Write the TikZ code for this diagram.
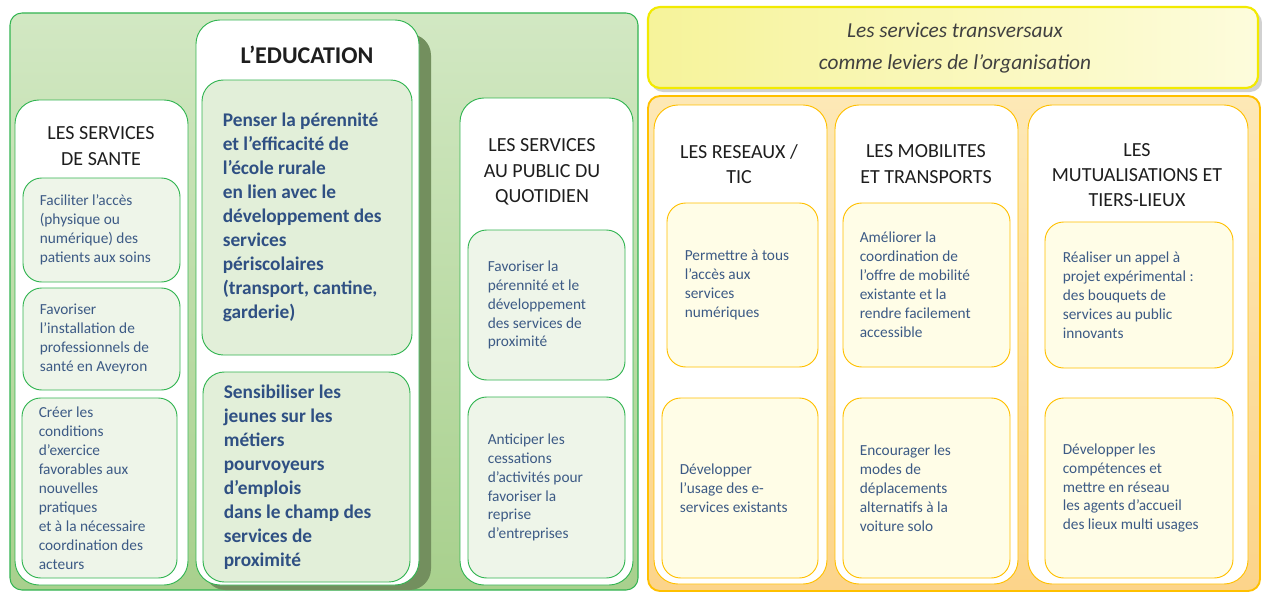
\documentclass[tikz,border=0pt]{standalone}
\usepackage{fontspec}
\setmainfont{Carlito}
\definecolor{gline}{HTML}{33B552}
\definecolor{gtop}{HTML}{D2E8C3}
\definecolor{gbot}{HTML}{A8D08D}
\definecolor{gsub}{HTML}{EEF5E9}
\definecolor{gedu}{HTML}{E2EFD9}
\definecolor{gshadow}{HTML}{738F5E}
\definecolor{oline}{HTML}{FFC000}
\definecolor{otop}{HTML}{FDE8B6}
\definecolor{obot}{HTML}{FCD48A}
\definecolor{ysub}{HTML}{FFFDE7}
\definecolor{yline}{HTML}{F2EA00}
\definecolor{ytop}{HTML}{F6F39A}
\definecolor{ybot}{HTML}{FDFCDC}
\definecolor{txtblue}{HTML}{3C5A85}
\definecolor{edublue}{HTML}{2F5083}
\definecolor{ttl}{HTML}{1E1E1E}
\newcommand\rbox[6]{%
  \pgfmathsetmacro\bw{(#5-#3)*0.75}\pgfmathsetmacro\bh{(#6-#4)*0.75}%
  \node[#2, minimum width=\bw pt, minimum height=\bh pt, inner sep=0pt] (#1) at ({(#3+#5)/2},{(#4+#6)/2}) {};}
\begin{document}
\begin{tikzpicture}[x=0.75pt,y=-0.75pt,
  panelG/.style={rectangle, rounded corners=9pt, draw=gline, line width=0.8pt, top color=gtop, bottom color=gbot},
  panelO/.style={rectangle, rounded corners=9pt, draw=oline, line width=1.4pt, top color=otop, bottom color=obot},
  headbox/.style={rectangle, rounded corners=9pt, draw=yline, line width=1.6pt, left color=ytop, right color=ybot},
  shadowG/.style={rectangle, rounded corners=16pt, fill=gshadow},
  shadowY/.style={rectangle, rounded corners=9pt, fill=black!18},
  colG/.style={rectangle, rounded corners=18pt, fill=white, draw=gline, line width=0.7pt},
  colO/.style={rectangle, rounded corners=18pt, fill=white, draw=oline, line width=0.7pt},
  subG/.style={rectangle, rounded corners=14pt, fill=gsub, draw=gline, line width=0.7pt},
  subE/.style={rectangle, rounded corners=16pt, fill=gedu, draw=gline, line width=0.7pt},
  subO/.style={rectangle, rounded corners=14pt, fill=ysub, draw=oline, line width=0.7pt},
  coltitle/.style={align=center, text=ttl, font=\fontsize{15}{19}\selectfont, inner sep=0pt},
  stxt/.style={anchor=west, align=left, text=txtblue, font=\fontsize{11.5}{14.2}\selectfont, inner sep=0pt},
  etxt/.style={anchor=west, align=left, text=edublue, font=\bfseries\fontsize{14.5}{18}\selectfont, inner sep=0pt}
]
\useasboundingbox (0,0) rectangle (1262,592);
\fill[white] (0,0) rectangle (1262,592);

% ---------- left panel ----------
\rbox{gpanel}{panelG}{10}{13}{638}{590}
\rbox{edushadow}{shadowG}{204}{34}{431}{590}
\rbox{colsante}{colG}{15}{100}{188}{585}
\rbox{coledu}{colG}{196}{20}{419}{585}
\rbox{colpub}{colG}{460}{98}{633}{585}

\node[coltitle] (tsante) at (101,146) {LES SERVICES\\DE SANTE};
\node[text=ttl, font=\bfseries\fontsize{18}{22}\selectfont, inner sep=0pt] (tedu) at (307,55) {L’EDUCATION};
\node[coltitle] (tpub) at (542,172) {LES SERVICES\\AU PUBLIC DU\\QUOTIDIEN};

\rbox{s1}{subG}{23}{178}{180}{282}
\rbox{s2}{subG}{23}{288}{180}{390}
\rbox{s3}{subG}{22}{398}{177}{578}
\node[stxt] (ts1) at ([xshift=12.75pt]s1.west) {Faciliter l’accès\\(physique ou\\numérique) des\\patients aux soins};
\node[stxt] (ts2) at ([xshift=12.75pt]s2.west) {Favoriser\\l’installation de\\professionnels de\\santé en Aveyron};
\node[stxt] (ts3) at ([xshift=12.75pt]s3.west) {Créer les\\conditions\\d’exercice\\favorables aux\\nouvelles\\pratiques\\et à la nécessaire\\coordination des\\acteurs};

\rbox{e1}{subE}{202}{80}{412}{355}
\rbox{e2}{subE}{203}{372}{410}{582}
\node[etxt] (te1) at ([xshift=15.75pt]e1.west) {Penser la pérennité\\et l’efficacité de\\l’école rurale\\en lien avec le\\développement des\\services\\périscolaires\\(transport, cantine,\\garderie)};
\node[etxt] (te2) at ([xshift=15.75pt]e2.west) {Sensibiliser les\\jeunes sur les\\métiers\\pourvoyeurs\\d’emplois\\dans le champ des\\services de\\proximité};

\rbox{p1}{subG}{468}{230}{625}{380}
\rbox{p2}{subG}{468}{397}{625}{578}
\node[stxt] (tp1) at ([xshift=15pt]p1.west) {Favoriser la\\pérennité et le\\développement\\des services de\\proximité};
\node[stxt] (tp2) at ([xshift=15pt]p2.west) {Anticiper les\\cessations\\d’activités pour\\favoriser la\\reprise\\d’entreprises};

% ---------- right panel ----------
\rbox{headshadow}{shadowY}{651}{11}{1262}{92}
\rbox{head}{headbox}{648}{7}{1258}{88}
\node[align=center, text=black!75, font=\itshape\fontsize{16}{24}\selectfont, inner sep=0pt] (thead) at (955,48) {Les services transversaux\\comme leviers de l’organisation};

\rbox{opanel}{panelO}{648}{96}{1260}{591}
\rbox{colres}{colO}{654}{105}{827}{584}
\rbox{colmob}{colO}{835}{105}{1018}{584}
\rbox{colmut}{colO}{1028}{105}{1248}{584}

\node[coltitle] (tres) at (739,164) {LES RESEAUX /\\TIC};
\node[coltitle] (tmob) at (926,164) {LES MOBILITES\\ET TRANSPORTS};
\node[coltitle] (tmut) at (1137,175) {LES\\MUTUALISATIONS ET\\TIERS-LIEUX};

\rbox{r1}{subO}{667}{203}{818}{367}
\rbox{r2}{subO}{662}{398}{818}{578}
\node[stxt] (tr1) at ([xshift=13.5pt]r1.west) {Permettre à tous\\l’accès aux\\services\\numériques};
\node[stxt] (tr2) at ([xshift=13.5pt]r2.west) {Développer\\l’usage des e-\\services existants};

\rbox{m1}{subO}{843}{203}{1010}{367}
\rbox{m2}{subO}{843}{398}{1010}{578}
\node[stxt] (tm1) at ([xshift=12.75pt]m1.west) {Améliorer la\\coordination de\\l’offre de mobilité\\existante et la\\rendre facilement\\accessible};
\node[stxt] (tm2) at ([xshift=12.75pt]m2.west) {Encourager les\\modes de\\déplacements\\alternatifs à la\\voiture solo};

\rbox{u1}{subO}{1045}{222}{1233}{368}
\rbox{u2}{subO}{1045}{398}{1233}{578}
\node[stxt] (tu1) at ([xshift=13.5pt]u1.west) {Réaliser un appel à\\projet expérimental :\\des bouquets de\\services au public\\innovants};
\node[stxt] (tu2) at ([xshift=13.5pt]u2.west) {Développer les\\compétences et\\mettre en réseau\\les agents d’accueil\\des lieux multi usages};
\end{tikzpicture}
\end{document}
